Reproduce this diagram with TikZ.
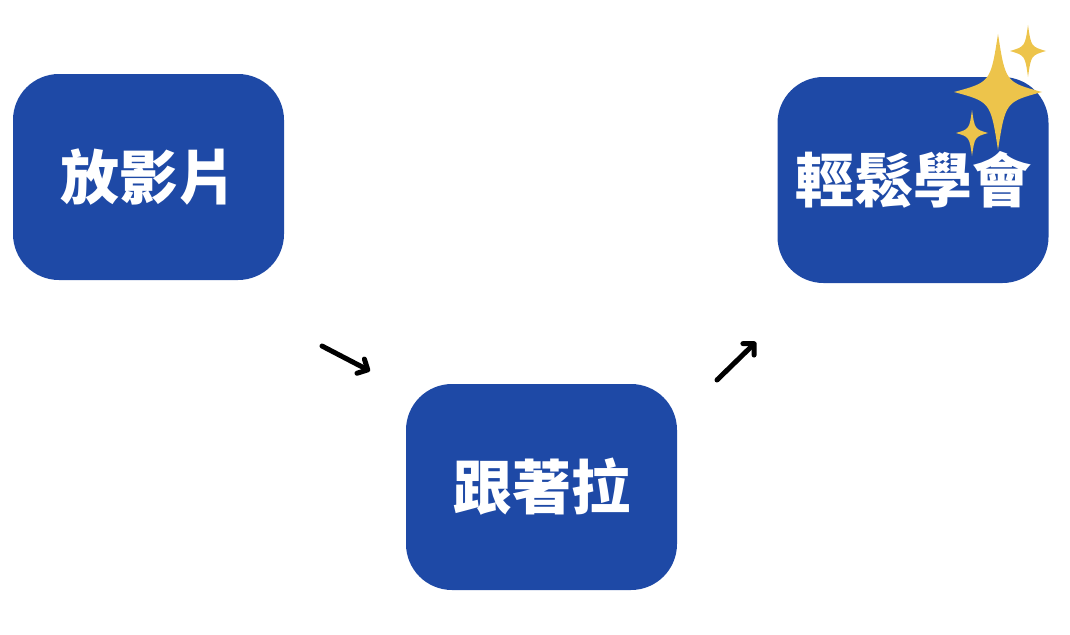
\documentclass[tikz,border=0pt]{standalone}
\usepackage{fontspec}
\newfontfamily\cjk{Noto Sans CJK TC}
\usetikzlibrary{arrows.meta}
\definecolor{boxblue}{HTML}{1E49A6}
\definecolor{gold}{HTML}{EDC44B}
\newcommand\mysparkle[4]{% cx cy w h
  \fill[gold] (#1,#2-#4) .. controls (#1+0.17*#3,#2-0.17*#4) .. (#1+#3,#2)
     .. controls (#1+0.17*#3,#2+0.17*#4) .. (#1,#2+#4)
     .. controls (#1-0.17*#3,#2+0.17*#4) .. (#1-#3,#2)
     .. controls (#1-0.17*#3,#2-0.17*#4) .. cycle;}
\tikzset{
  card/.style={fill=boxblue, rounded corners=46pt, minimum width=271pt, minimum height=206pt,
    inner sep=0pt, text=white, font=\cjk\bfseries\fontsize{59}{63}\selectfont},
  flow/.style={line width=5pt, line cap=round, -{Straight Barb[length=8pt,width=16pt,line cap=round,line join=round]}}
}
\begin{document}
\begin{tikzpicture}[x=1pt,y=-1pt]
\useasboundingbox (0,0) rectangle (1070,634);
\node[card] (b1) at (148.5,177) {\raisebox{-4pt}{放影片}};
\node[card] (b2) at (541.5,487) {\raisebox{-3pt}{跟著拉}};
\node[card] (b3) at (913,180) {\raisebox{-1pt}{輕鬆學會}};
\mysparkle{998}{92}{44}{58}
\mysparkle{1028}{51}{18}{26}
\mysparkle{972}{133}{16}{23}
\coordinate (a1s) at (322,346);
\coordinate (a1e) at (370,371);
\coordinate (a2s) at (717,380);
\coordinate (a2e) at (756,342);
\draw[flow] (a1s) -- (a1e);
\draw[flow] (a2s) -- (a2e);
\end{tikzpicture}
\end{document}
